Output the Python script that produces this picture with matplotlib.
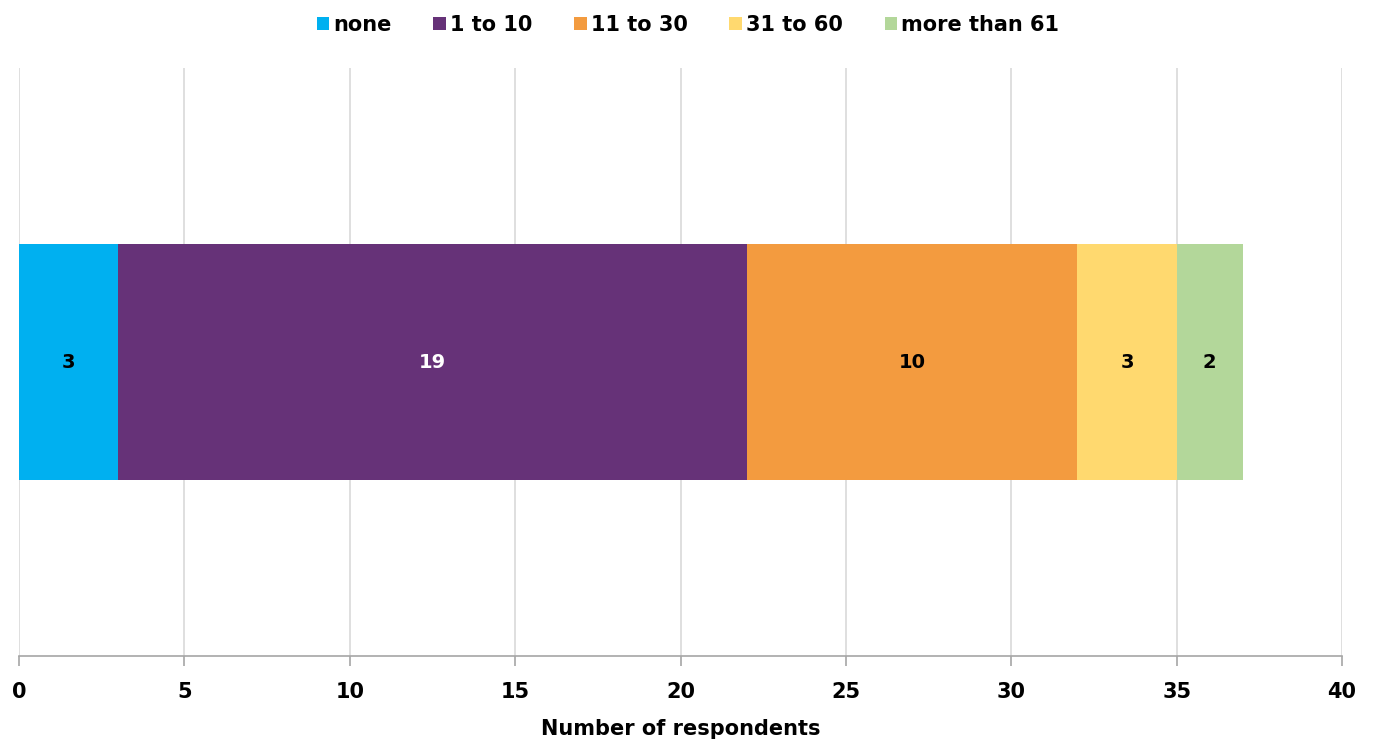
import matplotlib
matplotlib.use("Agg")
import matplotlib.pyplot as plt

categories = ["none", "1 to 10", "11 to 30", "31 to 60", "more than 61"]
counts = [3, 19, 10, 3, 2]
colors = ["#00B0F0", "#663278", "#F39B3F", "#FFD96F", "#B3D79A"]
label_colors = ["black", "white", "black", "black", "black"]
xticks = [0, 5, 10, 15, 20, 25, 30, 35, 40]

plt.rcParams["font.family"] = ["DejaVu Sans"]
plt.rcParams["font.weight"] = "bold"

fig = plt.figure(figsize=(13.76, 7.4), dpi=100)
ax = fig.add_axes([0.0138, 0.1135, 0.9615, 0.7945])

left = 0
for cat, n, c, lc in zip(categories, counts, colors, label_colors):
    ax.barh(0, n, left=left, height=0.4, color=c, label=cat, zorder=3)
    ax.text(left + n / 2, 0, str(n), ha="center", va="center",
            fontsize=14, fontweight="bold", color=lc, zorder=4)
    left += n

ax.set_xlim(0, 40)
ax.set_ylim(-0.5, 0.5)
ax.set_xticks(xticks)
ax.set_xticklabels([str(t) for t in xticks], fontsize=15, fontweight="bold")
ax.set_yticks([])
ax.grid(axis="x", color="#D9D9D9", linewidth=1.2, zorder=0)
for s in ["top", "right", "left"]:
    ax.spines[s].set_visible(False)
ax.spines["bottom"].set_color("#A6A6A6")
ax.spines["bottom"].set_linewidth(1.2)
ax.tick_params(axis="x", length=7, width=1.2, color="#A6A6A6", pad=12)
ax.set_xlabel("Number of respondents", fontsize=15, fontweight="bold", labelpad=12)

fig.legend(loc="upper center", bbox_to_anchor=(0.5, 1.005), ncol=5,
           frameon=False, fontsize=15, handlelength=0.6, handleheight=0.6,
           handletextpad=0.2, columnspacing=2.0,
           prop={"weight": "bold", "size": 15})

fig.savefig("out.png", dpi=100)
